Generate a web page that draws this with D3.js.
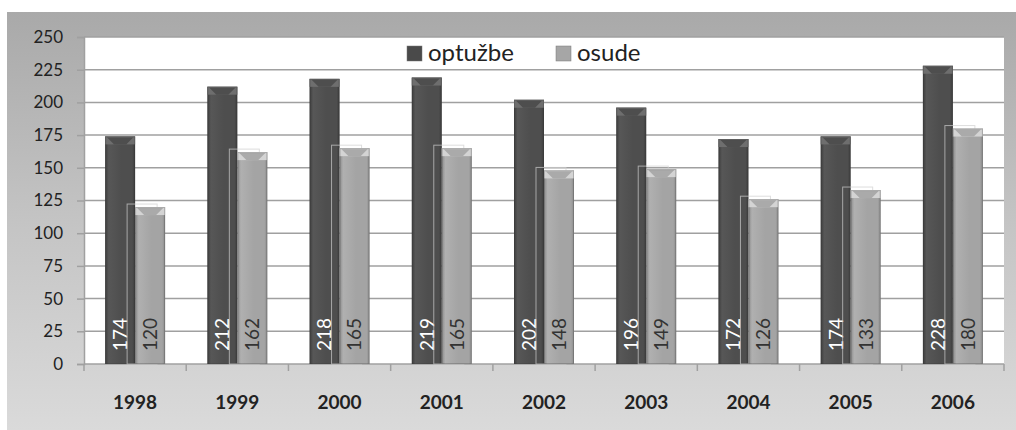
<!DOCTYPE html>
<html>
<head>
<meta charset="utf-8">
<script src="https://cdn.jsdelivr.net/npm/d3@7"></script>
<style>
  body { margin: 0; background: #fff; }
  svg { display: block; font-family: Lato, "Open Sans", sans-serif; }
</style>
</head>
<body>
<script>
var years = ["1998", "1999", "2000", "2001", "2002", "2003", "2004", "2005", "2006"];
var optuzbe = [174, 212, 218, 219, 202, 196, 172, 174, 228];
var osude = [120, 162, 165, 165, 148, 149, 126, 133, 180];
var seriesNames = ["optužbe", "osude"];
var yTicks = [0, 25, 50, 75, 100, 125, 150, 175, 200, 225, 250];

var dim = {
    width: 1016, height: 430,
    outer: { x: 7, y: 12 },
    plot: { left: 84, right: 1004, top: 37, bottom: 364 },
    barWidth: 30
};

var svg = d3.select("body").append("svg")
    .attr("width", dim.width)
    .attr("height", dim.height);

var defs = svg.append("defs");

var bg = defs.append("linearGradient").attr("id", "bgGrad")
    .attr("x1", 0).attr("y1", 0).attr("x2", 0).attr("y2", 1);
bg.append("stop").attr("offset", "0%").attr("stop-color", "#a9a9a9");
bg.append("stop").attr("offset", "50%").attr("stop-color", "#c4c4c4");
bg.append("stop").attr("offset", "100%").attr("stop-color", "#dadada");

function barGradient(id, edge, mid, light) {
    var g = defs.append("linearGradient").attr("id", id)
        .attr("x1", 0).attr("y1", 0).attr("x2", 1).attr("y2", 0);
    g.append("stop").attr("offset", "0%").attr("stop-color", edge);
    g.append("stop").attr("offset", "12%").attr("stop-color", light);
    g.append("stop").attr("offset", "55%").attr("stop-color", mid);
    g.append("stop").attr("offset", "90%").attr("stop-color", mid);
    g.append("stop").attr("offset", "100%").attr("stop-color", edge);
}
barGradient("darkGrad", "#3c3c3c", "#4e4e4e", "#575757");
barGradient("lightGrad", "#8a8a8a", "#a4a4a4", "#b0b0b0");

var colors = {
    "optužbe": { fill: "url(#darkGrad)", bevel: "#6e6e6e", vee: "#4e4e4e", label: "#ffffff", swatch: "#4a4a4a" },
    "osude": { fill: "url(#lightGrad)", bevel: "#d4d4d4", vee: "#aaaaaa", label: "#333333", swatch: "#a6a6a6" }
};

svg.append("rect")
    .attr("x", dim.outer.x).attr("y", dim.outer.y)
    .attr("width", dim.width - dim.outer.x)
    .attr("height", dim.height - dim.outer.y)
    .attr("fill", "url(#bgGrad)");

svg.append("rect")
    .attr("x", dim.plot.left).attr("y", dim.plot.top)
    .attr("width", dim.plot.right - dim.plot.left)
    .attr("height", dim.plot.bottom - dim.plot.top)
    .attr("fill", "#ffffff");

var x = d3.scaleBand().domain(years).range([dim.plot.left, dim.plot.right]).padding(0);
var x1 = d3.scaleBand().domain(seriesNames)
    .range([x.bandwidth() / 2 - dim.barWidth, x.bandwidth() / 2 + dim.barWidth]);
var y = d3.scaleLinear().domain([0, 250]).range([dim.plot.bottom, dim.plot.top]);

// gridlines
svg.append("g").selectAll("line").data(yTicks.slice(1)).enter().append("line")
    .attr("x1", dim.plot.left).attr("x2", dim.plot.right)
    .attr("y1", function(d) { return y(d); }).attr("y2", function(d) { return y(d); })
    .attr("stroke", "#a0a0a0").attr("stroke-width", 1.5);

// y axis
var yAxis = d3.axisLeft(y).tickValues(yTicks).tickSize(7).tickPadding(14);
var yg = svg.append("g").attr("transform", "translate(" + dim.plot.left + ",0)").call(yAxis);
yg.select(".domain").attr("stroke", "#a0a0a0").attr("stroke-width", 1.5);
yg.selectAll(".tick line").attr("stroke", "#a0a0a0").attr("stroke-width", 1.5);
yg.selectAll(".tick text").attr("font-size", 17).attr("fill", "#222")
    .attr("font-family", "Lato, sans-serif");

// x axis: ticks on category boundaries
var xg = svg.append("g").attr("transform", "translate(0," + dim.plot.bottom + ")");
xg.append("line").attr("x1", dim.plot.left).attr("x2", dim.plot.right)
    .attr("stroke", "#a0a0a0").attr("stroke-width", 1.5);
xg.selectAll("line.tk").data(years.concat(["end"])).enter().append("line")
    .attr("class", "tk")
    .attr("x1", function(d, i) { return dim.plot.left + i * x.bandwidth(); })
    .attr("x2", function(d, i) { return dim.plot.left + i * x.bandwidth(); })
    .attr("y1", 0).attr("y2", 7)
    .attr("stroke", "#a0a0a0").attr("stroke-width", 1.5);
xg.selectAll("text").data(years).enter().append("text")
    .attr("x", function(d) { return x(d) + x.bandwidth() / 2; })
    .attr("y", 45)
    .attr("text-anchor", "middle")
    .attr("font-size", 19).attr("font-weight", "bold").attr("fill", "#222")
    .text(function(d) { return d; });

// bars
var rows = years.map(function(yr, i) {
    return { year: yr, values: [{ key: "optužbe", v: optuzbe[i] }, { key: "osude", v: osude[i] }] };
});

var groups = svg.append("g").selectAll("g").data(rows).enter().append("g")
    .attr("transform", function(d) { return "translate(" + x(d.year) + ",0)"; });

groups.each(function(d) {
    var g = d3.select(this);
    d.values.forEach(function(s) {
        var bx = x1(s.key), bw = x1.bandwidth(), top = y(s.v), h = y(0) - y(s.v);
        var c = colors[s.key];
        if (s.key === "osude") {
            // faint reflection outline behind the light bar
            g.append("rect")
                .attr("x", bx - 8).attr("y", top - 3)
                .attr("width", bw).attr("height", h + 3)
                .attr("fill", "none").attr("stroke", "#cfcfcf").attr("stroke-width", 1)
                .attr("opacity", 0.7);
        }
        g.append("rect")
            .attr("x", bx).attr("y", top).attr("width", bw).attr("height", h)
            .attr("fill", c.fill);
        // bevel at the top
        g.append("rect")
            .attr("x", bx).attr("y", top).attr("width", bw).attr("height", 8)
            .attr("fill", c.bevel);
        g.append("polygon")
            .attr("points", [[bx + 2, top + 1], [bx + bw - 2, top + 1], [bx + bw - 9, top + 8], [bx + 9, top + 8]]
                .map(function(p) { return p.join(","); }).join(" "))
            .attr("fill", c.vee);
        g.append("rect")
            .attr("x", bx + 0.5).attr("y", top + 0.5).attr("width", bw - 1).attr("height", h - 1)
            .attr("fill", "none").attr("stroke", "#333").attr("stroke-opacity", 0.25);
        g.append("text")
            .attr("transform", "translate(" + (bx + bw / 2) + "," + (y(0) - 13) + ") rotate(-90)")
            .attr("dy", "0.36em")
            .attr("font-size", 19).attr("fill", c.label)
            .text(s.v);
    });
});

// legend
var legend = svg.append("g");
var legendX = [407, 556];
seriesNames.forEach(function(name, i) {
    legend.append("rect")
        .attr("x", legendX[i]).attr("y", 46).attr("width", 15).attr("height", 15)
        .attr("fill", colors[name].swatch).attr("stroke", "#777").attr("stroke-width", 0.5);
    legend.append("text")
        .attr("x", legendX[i] + 21).attr("y", 61)
        .attr("font-size", 24).attr("fill", "#222")
        .text(name);
});
</script>
</body>
</html>
